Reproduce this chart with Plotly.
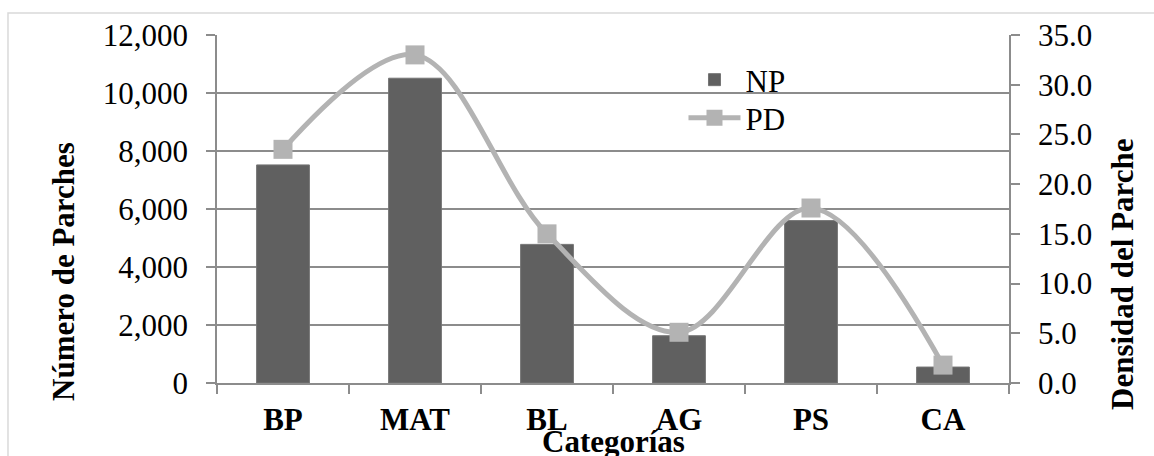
import plotly.graph_objects as go

categories = ["BP", "MAT", "BL", "AG", "PS", "CA"]
np_values = [7520, 10510, 4780, 1630, 5600, 550]
pd_values = [23.5, 33.0, 15.0, 5.1, 17.6, 1.8]

FONT = "Times New Roman, Liberation Serif, serif"
GRID = "#8c8c8c"
BAR = "#606060"
LINE = "#b3b3b3"
FS = 31

fig = go.Figure()
fig.add_trace(go.Bar(
    x=categories, y=np_values, name="NP", width=0.4,
    marker=dict(color=BAR, line=dict(color="#757575", width=1)),
    yaxis="y", legend="legend",
))
fig.add_trace(go.Scatter(
    x=categories, y=pd_values, name="PD", yaxis="y2",
    mode="lines+markers",
    line=dict(color=LINE, width=5, shape="spline", smoothing=1.0),
    marker=dict(symbol="square", size=19, color=LINE),
    legend="legend2",
))

leg_common = dict(xanchor="left", yanchor="middle", bgcolor="rgba(0,0,0,0)",
                  itemwidth=52, font=dict(family=FONT, size=FS, color="black"))

fig.update_layout(
    width=1154, height=456,
    margin=dict(l=217, r=145, t=35, b=73),
    paper_bgcolor="white", plot_bgcolor="white",
    font=dict(family=FONT, size=FS, color="black"),
    showlegend=True,
    legend=dict(x=0.589, y=(383 - 80) / 348, **leg_common),
    legend2=dict(x=0.589, y=(383 - 118) / 348, **leg_common),
    xaxis=dict(
        type="category", showline=True, linecolor=GRID, linewidth=1.5,
        ticks="outside", tickson="boundaries", ticklen=9, tickcolor=GRID,
        tickwidth=1.5, showgrid=False,
        tickfont=dict(family=FONT, size=FS, color="black", weight="bold"),
        ticklabelstandoff=8,
    ),
    yaxis=dict(
        range=[0, 12000], dtick=2000, tickformat=",", showgrid=True,
        gridcolor=GRID, gridwidth=1.5, showline=True, linecolor=GRID,
        linewidth=1.5, ticks="outside", ticklen=9, tickcolor=GRID,
        tickwidth=1.5, zeroline=False, ticklabelstandoff=12,
        tickfont=dict(family=FONT, size=FS, color="black"),
    ),
    yaxis2=dict(
        range=[0, 35], dtick=5, tickformat=".1f", overlaying="y",
        side="right", showgrid=False, showline=True, linecolor=GRID,
        linewidth=1.5, ticks="outside", ticklen=9, tickcolor=GRID,
        tickwidth=1.5, zeroline=False, ticklabelstandoff=12,
        tickfont=dict(family=FONT, size=FS, color="black"),
    ),
    bargap=0.6,
)

# outer chart border
fig.add_shape(type="rect", xref="paper", yref="paper",
              x0=-0.2639, x1=1.195, y0=-0.26, y1=1.0632,
              line=dict(color="#d9d9d9", width=1.5), layer="below")

# axis titles
fig.add_annotation(text="<b>Número de Parches</b>", xref="paper", yref="paper",
                   x=(63 - 217) / 792, y=(383 - 272) / 348, textangle=-90,
                   showarrow=False, xanchor="center", yanchor="middle",
                   font=dict(family=FONT, size=FS, color="black"))
fig.add_annotation(text="<b>Densidad del Parche</b>", xref="paper", yref="paper",
                   x=(1122 - 217) / 792, y=(383 - 274) / 348, textangle=-90,
                   showarrow=False, xanchor="center", yanchor="middle",
                   font=dict(family=FONT, size=FS, color="black"))
fig.add_annotation(text="<b>Categorías</b>", xref="paper", yref="paper",
                   x=(613 - 217) / 792, y=(383 - 441) / 348,
                   showarrow=False, xanchor="center", yanchor="middle",
                   font=dict(family=FONT, size=FS, color="black"))

fig.write_html("out.html")
